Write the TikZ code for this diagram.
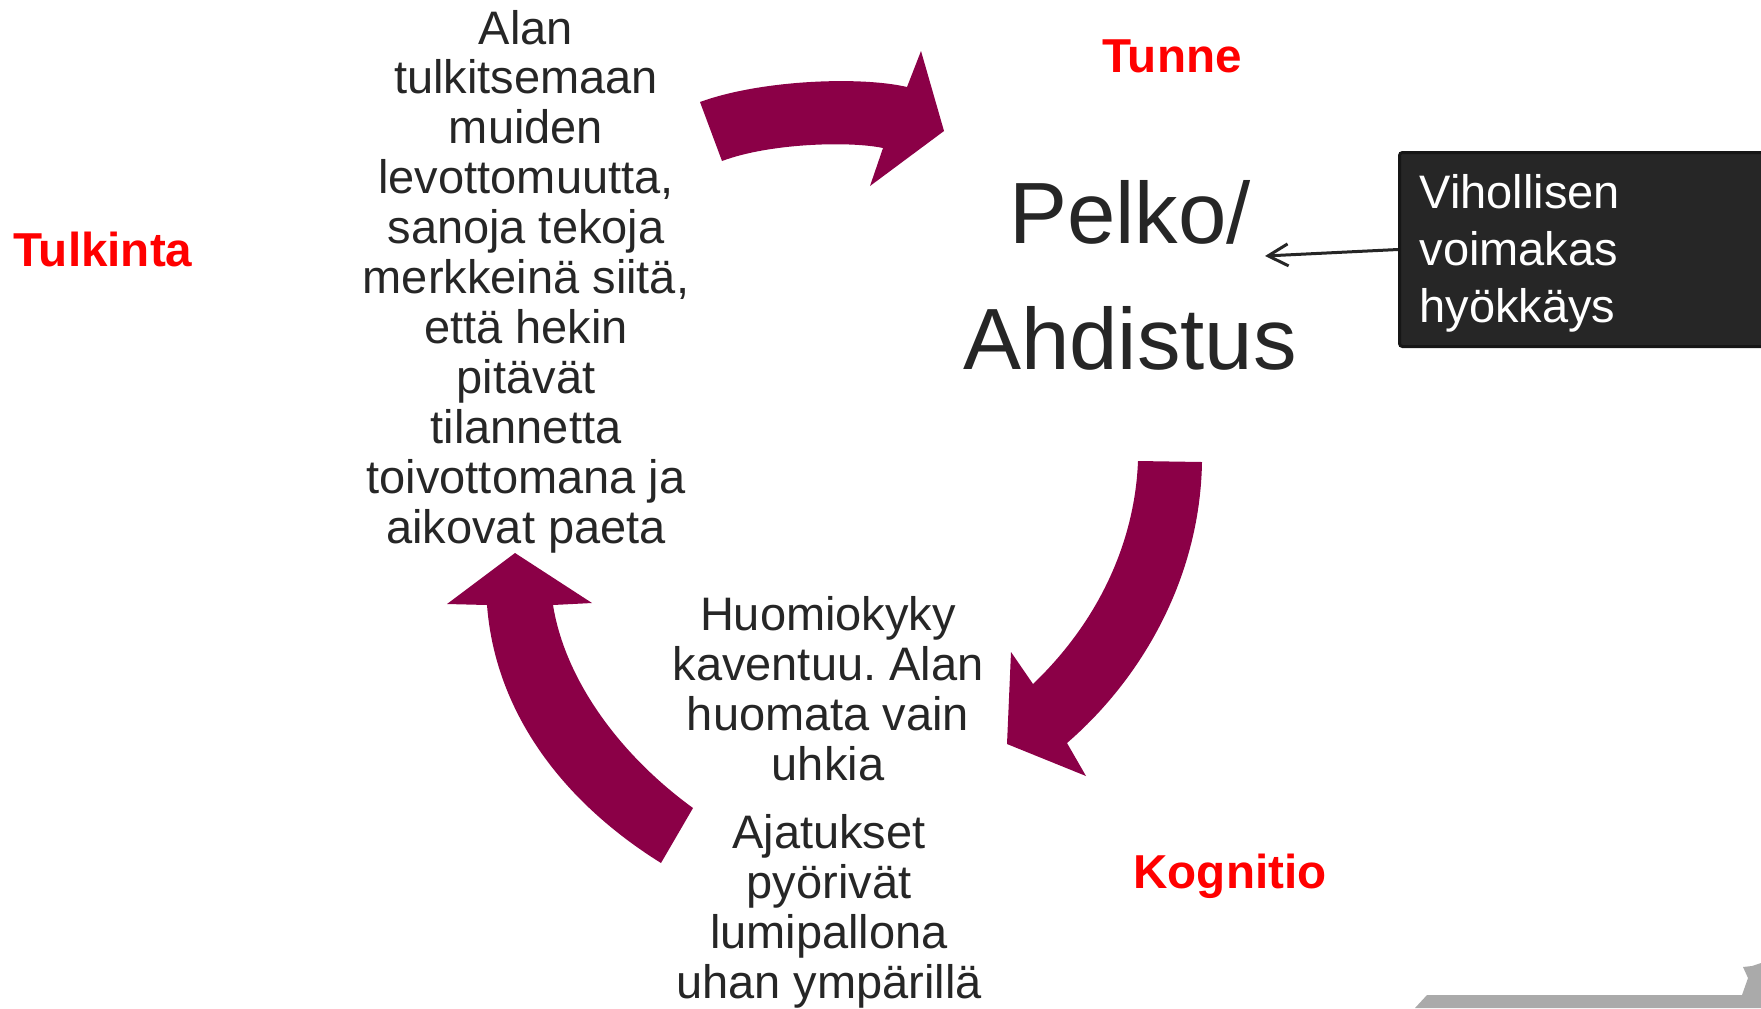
\documentclass[tikz,border=0pt]{standalone}
\usepackage{fontspec}
\setmainfont{Liberation Sans}
\usepackage{tikz}
\usetikzlibrary{
  arrows.meta,
  positioning
}
\frenchspacing
\definecolor{cyclemaroon}{RGB}{139,0,71}
\definecolor{phasered}{RGB}{255,0,0}
\definecolor{inkdark}{RGB}{38,38,38}
\definecolor{boxdark}{RGB}{38,38,38}
\definecolor{boxrim}{RGB}{22,22,22}
\definecolor{cornergray}{RGB}{170,170,170}
\tikzset{
  phase/.style={font=\fontsize{23.8}{27}\selectfont\bfseries,text=phasered,
    inner sep=0pt},
  story/.style={font=\fontsize{23.5}{24.95}\selectfont,text=inkdark,
    align=center,inner sep=0pt},
  emotion/.style={font=\fontsize{43.5}{63}\selectfont,text=inkdark,
    align=center,inner sep=0pt},
  trigger/.style={draw=boxrim,line width=1.5pt,fill=boxdark,rounded corners=1.5pt,
    text=white,align=left,font=\fontsize{23.5}{28.5}\selectfont,
    inner xsep=10pt,inner ysep=0pt,text width=180pt,minimum height=97pt},
  cyclearrow/.style={fill=cyclemaroon,draw=none},
  attackflow/.style={-{Straight Barb[length=10pt,width=11pt]},line width=1.5pt,
    draw=inkdark}
}
\begin{document}
\begin{tikzpicture}[x=0.5pt,y=-0.5pt]
  \useasboundingbox (0,0) rectangle (1761,1008);
  \node[phase,anchor=base west] (tulkinta) at (13,266) {Tulkinta};
  \node[phase,anchor=base] (tunne) at (1172,72) {Tunne};
  \node[phase,anchor=base] (kognitio) at (1230,888) {Kognitio};
  \node[story,anchor=base] (interp) at (526,543) {Alan\\tulkitsemaan\\muiden\\
    levottomuutta,\\sanoja tekoja\\merkkeinä siitä,\\että hekin\\pitävät\\
    tilannetta\\toivottomana ja\\aikovat paeta};
  \node[emotion,anchor=base] (fear) at (1130,369) {Pelko/\\Ahdistus};
  \node[story,anchor=base] (narrow) at (828,780) {Huomiokyky\\
    kaventuu. Alan\\huomata vain\\uhkia};
  \node[story,anchor=base] (thoughts) at (829,998) {Ajatukset\\pyörivät\\
    lumipallona\\uhan ympärillä};
  \node[trigger,anchor=north west] (enemy) at (1398,151) {\rule{0pt}{21.3pt}Vihollisen\\
    voimakas\\hyökkäys};
  \coordinate (feartip) at (1265,256);
  \draw[attackflow] (enemy.west)--(feartip);
  \fill[cyclearrow] (700,102) .. controls (760,80) and (860,76) .. (907,87)
    -- (921,51) -- (944,131) -- (870,186) -- (883,148)
    .. controls (850,141) and (770,143) .. (722,161) -- cycle;
  \fill[cyclearrow] (1138,461) -- (1202,462)
    .. controls (1200,580) and (1140,680) .. (1067,743)
    -- (1086,776) -- (1007,744) -- (1011,652) -- (1033,684)
    .. controls (1100,620) and (1135,540) .. (1138,461) -- cycle;
  \fill[cyclearrow] (661,863) -- (693,808)
    .. controls (620,755) and (565,680) .. (553,605)
    -- (592,603) -- (515,553) -- (447,604) -- (487,605)
    .. controls (495,710) and (560,800) .. (661,863) -- cycle;
  \fill[cornergray] (1415,1008) -- (1427,995) -- (1742,995) -- (1748,978)
    -- (1743,967) -- (1752,966) -- (1761,963) -- (1761,1008) -- cycle;
\end{tikzpicture}
\end{document}
